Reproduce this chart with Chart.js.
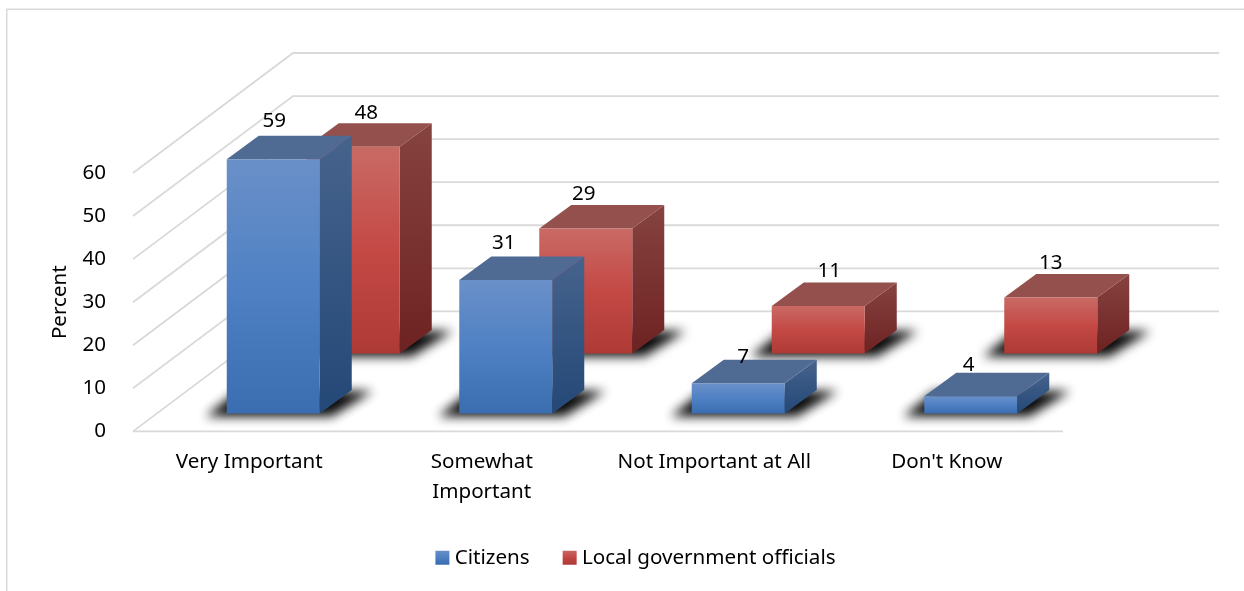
<!DOCTYPE html>
<html>
<head>
<meta charset="utf-8">
<title>Importance</title>
<script src="https://cdn.jsdelivr.net/npm/chart.js@4"></script>
<style>
    html, body { margin: 0; background: #fff; overflow: hidden; }
    canvas { display: block; }
</style>
</head>
<body>
<canvas id="importance" width="1244" height="591"></canvas>
<script>
// Percent by importance, citizens vs officials

const categories = [
    'Very Important',
    ['Somewhat', 'Important'],
    'Not Important at All',
    "Don't Know",
];
const citizens = [59, 31, 7, 4];
const officials = [48, 29, 11, 13];
const yTicks = [0, 10, 20, 30, 40, 50, 60];

// label nudges (px) relative to the top of each bar
const citizensNudgeX = [1, -2, 5, -2];
const citizensNudgeY = [-38, -37, -26, -31];
const officialsNudgeX = [13, -2, 11, 0];
const officialsNudgeY = [-34, -34, -35, -34];

const FONT = '"Noto Sans"';
const FONT_SIZE = 20.6;
const GRID = '#d9d9d9';

// floor depth of the whole box and of one bar
const boxDepth = { x: 160, y: -120 };
const barDepth = { x: 32, y: -23.5 };

const looks = [
    {
        shift: { x: 24, y: -18 },
        front: ['#6a90c8', '#4f81c4', '#3a6eb1'],
        top: '#4f6b94',
        side: ['#46638c', '#244877'],
        nudgeX: citizensNudgeX,
        nudgeY: citizensNudgeY,
    },
    {
        shift: { x: 104, y: -78 },
        front: ['#c96a65', '#c44945', '#ae3a36'],
        top: '#94504c',
        side: ['#864340', '#6e2222'],
        nudgeX: officialsNudgeX,
        nudgeY: officialsNudgeY,
    },
];

function poly(ctx, pts, fill) {
    ctx.beginPath();
    pts.forEach((p, i) => (i ? ctx.lineTo(p[0], p[1]) : ctx.moveTo(p[0], p[1])));
    ctx.closePath();
    ctx.fillStyle = fill;
    ctx.fill();
}

function vGradient(ctx, y0, y1, stops) {
    const g = ctx.createLinearGradient(0, y0, 0, y1);
    stops.forEach((c, i) => g.addColorStop(i / (stops.length - 1), c));
    return g;
}

function barBox(el, look) {
    return {
        x0: el.x - el.width / 2 + look.shift.x,
        x1: el.x + el.width / 2 + look.shift.x,
        top: el.y + look.shift.y,
        base: el.base + look.shift.y,
    };
}

// only the blurred shadow lands on the canvas, the shape itself is off to the left
function drawShadow(ctx, b) {
    const off = 3000;
    ctx.save();
    ctx.shadowColor = 'rgba(10,10,10,1)';
    ctx.shadowBlur = 11;
    ctx.shadowOffsetX = off;
    poly(ctx, [
        [b.x0 - 21 - off, b.base + 3],
        [b.x1 + 12 - off, b.base + 3],
        [b.x1 + barDepth.x + 21 - off, b.base + barDepth.y + 1],
        [b.x0 + barDepth.x - 21 - off, b.base + barDepth.y + 1],
    ], '#000');
    ctx.restore();
}

function drawBar(ctx, b, look) {
    const d = barDepth;
    poly(ctx, [
        [b.x1, b.top], [b.x1 + d.x, b.top + d.y],
        [b.x1 + d.x, b.base + d.y], [b.x1, b.base],
    ], vGradient(ctx, b.top + d.y, b.base, look.side));
    poly(ctx, [
        [b.x0, b.top], [b.x0 + d.x, b.top + d.y],
        [b.x1 + d.x, b.top + d.y], [b.x1, b.top],
    ], look.top);
    poly(ctx, [
        [b.x0, b.top], [b.x1, b.top], [b.x1, b.base], [b.x0, b.base],
    ], vGradient(ctx, b.top, b.base, look.front));
}

const scene3d = {
    id: 'scene3d',
    beforeDraw(chart) {
        const ctx = chart.ctx;
        ctx.save();
        ctx.strokeStyle = GRID;
        ctx.lineWidth = 1.5;
        ctx.strokeRect(6.75, 9.25, 1300, 700);
        ctx.restore();
    },
    beforeDatasetsDraw(chart) {
        const ctx = chart.ctx;
        const { x: xs, y: ys } = chart.scales;
        ctx.save();

        // walls and floor
        ctx.strokeStyle = GRID;
        ctx.lineWidth = 1.8;
        yTicks.forEach((v) => {
            const y = ys.getPixelForValue(v);
            ctx.beginPath();
            ctx.moveTo(xs.left, y);
            ctx.lineTo(xs.left + boxDepth.x, y + boxDepth.y);
            ctx.lineTo(xs.right + boxDepth.x - 4, y + boxDepth.y);
            ctx.stroke();
        });
        const y0 = ys.getPixelForValue(0);
        ctx.beginPath();
        ctx.moveTo(xs.left, y0);
        ctx.lineTo(xs.right, y0);
        ctx.stroke();

        // back row first
        [1, 0].forEach((di) => {
            const els = chart.getDatasetMeta(di).data;
            els.forEach((el) => drawShadow(ctx, barBox(el, looks[di])));
            els.forEach((el) => drawBar(ctx, barBox(el, looks[di]), looks[di]));
        });

        // value labels
        ctx.font = FONT_SIZE + 'px ' + FONT;
        ctx.fillStyle = '#000';
        ctx.textAlign = 'center';
        ctx.textBaseline = 'middle';
        [0, 1].forEach((di) => {
            const look = looks[di];
            chart.getDatasetMeta(di).data.forEach((el, i) => {
                const b = barBox(el, look);
                ctx.fillText(chart.data.datasets[di].data[i], (b.x0 + b.x1) / 2 + look.nudgeX[i], b.top + look.nudgeY[i]);
            });
        });
        ctx.restore();
        return false;
    },
};

const data = {
    labels: categories,
    datasets: [
        { label: 'Citizens', data: citizens, backgroundColor: '#4f81c4' },
        { label: 'Local government officials', data: officials, backgroundColor: '#c44945' },
    ],
};

const config = {
    type: 'bar',
    data: data,
    plugins: [scene3d],
    options: {
        responsive: false,
        animation: false,
        datasets: {
            bar: { grouped: false, barPercentage: 0.4, categoryPercentage: 1 },
        },
        layout: { padding: { top: 173, left: 32, bottom: 13 } },
        scales: {
            x: {
                grid: { display: false },
                border: { display: false },
                afterFit(s) { s.height = 78; },
                ticks: {
                    autoSkip: false,
                    maxRotation: 0,
                    padding: 8,
                    color: '#000',
                    font: { family: FONT, size: FONT_SIZE, lineHeight: 30 / FONT_SIZE },
                },
            },
            y: {
                min: 0,
                max: 60,
                grid: { display: false },
                border: { display: false },
                afterFit(s) { s.width = 101; },
                ticks: {
                    stepSize: 10,
                    padding: 19,
                    color: '#000',
                    font: { family: FONT, size: FONT_SIZE },
                },
                title: {
                    display: true,
                    text: 'Percent',
                    color: '#000',
                    padding: { top: 13, bottom: 0 },
                    font: { family: FONT, size: FONT_SIZE, lineHeight: 1.5 },
                },
            },
            // keeps the room the back wall needs on the right
            room: {
                position: 'right',
                grid: { display: false },
                border: { display: false },
                ticks: { display: false },
                afterFit(s) { s.width = 181; },
            },
        },
        plugins: {
            tooltip: { enabled: false },
            legend: {
                position: 'bottom',
                labels: {
                    usePointStyle: true,
                    boxWidth: 4,
                    boxHeight: 14,
                    padding: 38,
                    color: '#000',
                    font: { family: FONT, size: FONT_SIZE },
                    generateLabels(chart) {
                        const ctx = chart.ctx;
                        return chart.data.datasets.map((ds, i) => ({
                            text: ds.label,
                            datasetIndex: i,
                            pointStyle: 'rect',
                            lineWidth: 0,
                            strokeStyle: 'transparent',
                            fontColor: '#000',
                            fillStyle: vGradient(ctx, chart.height - 41, chart.height - 27, looks[i].front),
                        }));
                    },
                },
            },
        },
    },
};

const myChart = new Chart(document.getElementById('importance'), config);
</script>
</body>
</html>
